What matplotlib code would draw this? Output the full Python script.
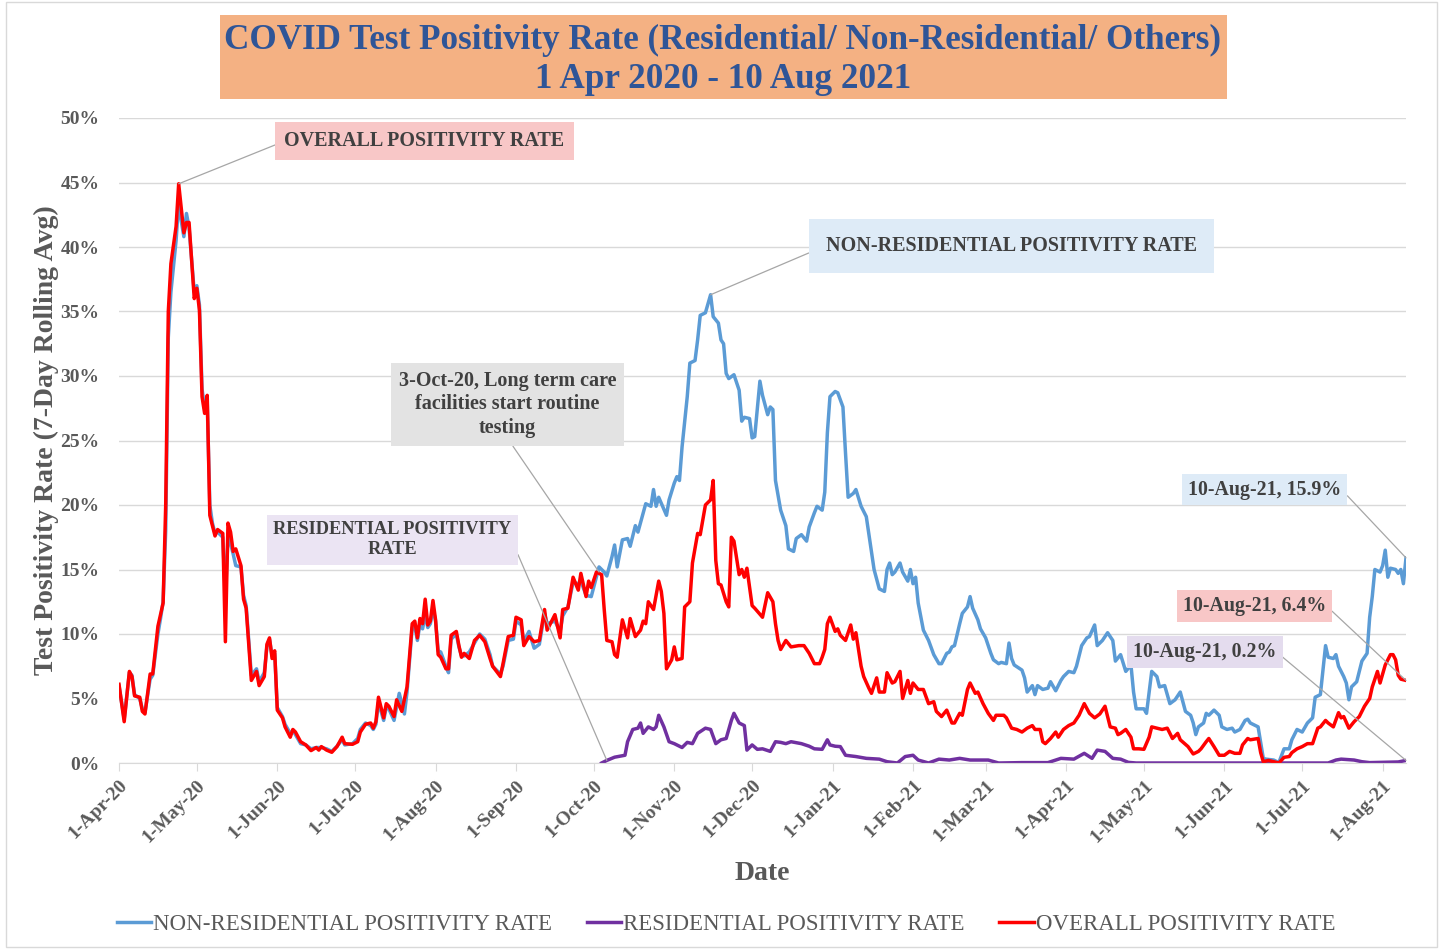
import numpy as np
import pandas as pd
import matplotlib
matplotlib.use('Agg')
import matplotlib.pyplot as plt
from matplotlib.patches import Rectangle

# values: days since 1-Apr-2020 and positivity (%)
start = pd.Timestamp('2020-04-01')

overall_days = [0, 2, 4, 5, 6, 8, 9, 10, 12, 13, 15, 16, 17, 18, 19, 20, 22, 23, 25, 26,
                27, 29, 30, 31, 32, 33, 34, 35, 36, 37, 38, 40, 41, 42, 43, 44, 45, 47, 48, 49,
                51, 53, 54, 56, 57, 58, 59, 60, 61, 63, 64, 66, 67, 68, 70, 72, 74, 76, 77, 78,
                80, 82, 84, 86, 87, 90, 92, 93, 95, 97, 98, 99, 100, 102, 103, 104, 106, 107, 109, 111,
                113, 114, 115, 116, 117, 118, 119, 120, 121, 122, 123, 124, 126, 127, 128, 130, 131, 132, 133, 135,
                137, 139, 141, 143, 144, 147, 148, 150, 152, 153, 155, 156, 158, 160, 162, 164, 165, 168, 170, 171,
                173, 175, 177, 178, 180, 181, 182, 184, 186, 187, 188, 190, 191, 192, 194, 196, 197, 199, 201, 202,
                203, 204, 206, 208, 209, 210, 211, 213, 214, 215, 217, 218, 220, 221, 223, 224, 226, 228, 229, 230,
                231, 232, 234, 235, 236, 237, 239, 240, 241, 242, 244, 245, 248, 250, 252, 253, 254, 255, 257, 259,
                262, 264, 266, 268, 270, 271, 272, 273, 274, 276, 277, 278, 280, 282, 283, 284, 286, 287, 289, 290,
                292, 293, 295, 296, 298, 299, 301, 302, 304, 305, 306, 308, 310, 312, 314, 315, 317, 319, 321, 322,
                324, 325, 327, 328, 330, 331, 333, 335, 337, 338, 341, 342, 344, 346, 348, 350, 352, 353, 355, 356,
                357, 359, 361, 362, 364, 366, 368, 370, 372, 374, 376, 378, 380, 381, 382, 384, 385, 386, 388, 390,
                391, 393, 395, 397, 398, 400, 402, 404, 406, 408, 409, 412, 414, 416, 417, 419, 420, 422, 424, 426,
                428, 430, 432, 433, 435, 436, 439, 440, 441, 443, 445, 447, 449, 451, 452, 454, 456, 458, 460, 462,
                463, 465, 466, 468, 470, 471, 472, 474, 476, 478, 480, 482, 483, 485, 486, 488, 490, 491, 492, 493,
                494, 496]
overall_vals = [6.1, 3.2, 7.1, 6.7, 5.2, 5.1, 4.0, 3.8, 6.9, 6.9, 10.6, 11.5, 12.4, 20.0, 35.0, 38.7, 41.6, 44.9, 41.1, 41.9,
                41.9, 36.0, 36.8, 35.1, 28.4, 27.1, 28.5, 19.2, 18.4, 17.6, 18.1, 17.8, 9.4, 18.6, 17.9, 16.4, 16.6, 15.3, 12.7, 12.0,
                6.4, 7.1, 6.0, 6.7, 9.2, 9.7, 8.1, 8.7, 4.1, 3.5, 2.8, 2.0, 2.6, 2.4, 1.65, 1.4, 0.96, 1.2, 1.0, 1.27,
                1.0, 0.83, 1.27, 2.0, 1.5, 1.45, 1.65, 2.4, 3.0, 3.1, 2.7, 3.2, 5.1, 3.5, 4.6, 4.4, 3.6, 4.9, 4.0, 5.9,
                10.8, 11.0, 9.7, 11.2, 10.8, 12.7, 10.7, 11.0, 12.6, 11.1, 8.4, 8.2, 7.3, 7.3, 9.9, 10.2, 9.1, 8.2, 8.5, 8.1,
                9.5, 9.9, 9.4, 8.1, 7.5, 6.7, 7.7, 9.8, 9.9, 11.3, 11.1, 9.1, 9.8, 9.4, 9.5, 11.9, 10.3, 11.5, 9.7, 11.9,
                12.0, 14.4, 13.4, 14.7, 12.9, 14.1, 13.6, 14.8, 14.6, 11.9, 9.5, 9.4, 8.4, 8.2, 11.1, 9.7, 11.2, 9.8, 10.3, 11.0,
                10.8, 12.5, 11.9, 14.1, 13.3, 11.6, 7.3, 8.0, 9.0, 8.0, 8.1, 12.1, 12.5, 15.5, 17.8, 17.7, 20.0, 20.4, 21.9, 15.7,
                13.9, 13.8, 12.5, 12.1, 17.5, 17.2, 14.6, 15.0, 14.4, 15.1, 12.2, 12.0, 11.3, 13.2, 12.5, 10.8, 9.5, 8.8, 9.5, 9.0,
                9.1, 9.1, 8.5, 7.7, 7.7, 8.2, 8.8, 10.8, 11.3, 10.2, 10.4, 9.9, 9.5, 10.7, 9.6, 10.1, 7.5, 6.7, 5.8, 5.4,
                6.6, 5.5, 5.5, 7.0, 6.2, 6.3, 7.1, 5.0, 6.4, 5.4, 6.2, 5.7, 5.7, 4.6, 4.75, 4.0, 3.6, 4.1, 3.1, 3.1,
                3.85, 3.7, 5.7, 6.2, 5.4, 5.5, 4.6, 3.85, 3.3, 3.7, 3.7, 3.5, 2.7, 2.6, 2.4, 2.7, 2.9, 2.6, 2.6, 1.65,
                1.5, 1.9, 2.4, 2.0, 2.6, 2.9, 3.1, 3.7, 4.6, 3.85, 3.5, 3.8, 4.4, 3.6, 2.8, 2.7, 2.2, 2.3, 2.6, 2.0,
                1.1, 1.1, 1.06, 2.0, 2.8, 2.7, 2.6, 2.7, 1.9, 2.3, 1.8, 1.27, 0.7, 0.9, 1.1, 1.65, 1.9, 1.27, 0.6, 0.6,
                0.9, 0.75, 0.75, 1.4, 1.9, 1.8, 1.9, 0.8, 0.1, 0.2, 0.1, 0.0, 0.44, 0.5, 0.8, 1.1, 1.27, 1.5, 1.5, 2.7,
                2.8, 3.3, 3.1, 2.8, 3.9, 3.5, 3.6, 2.7, 3.2, 3.6, 4.4, 5.0, 5.9, 7.1, 6.2, 7.6, 8.4, 8.4, 8.0, 6.8,
                6.5, 6.4]

nonres_days = [0, 2, 4, 5, 6, 8, 9, 10, 12, 13, 15, 16, 17, 18, 19, 20, 22, 23, 24, 25,
               26, 27, 29, 30, 31, 32, 33, 34, 35, 36, 37, 38, 40, 41, 42, 43, 44, 45, 47, 48,
               49, 51, 53, 54, 56, 57, 58, 59, 60, 61, 63, 64, 66, 67, 68, 70, 72, 74, 76, 78,
               80, 82, 84, 86, 87, 90, 92, 93, 95, 97, 98, 99, 100, 102, 103, 104, 106, 108, 110, 111,
               113, 114, 115, 116, 117, 118, 119, 120, 121, 122, 123, 124, 126, 127, 128, 130, 131, 132, 133, 135,
               137, 139, 141, 143, 144, 147, 148, 150, 152, 153, 155, 156, 158, 160, 162, 164, 165, 168, 170, 171,
               173, 175, 177, 178, 180, 182, 185, 187, 188, 190, 191, 192, 194, 196, 197, 199, 200, 203, 205, 206,
               207, 208, 211, 212, 214, 215, 216, 217, 219, 220, 222, 223, 224, 226, 228, 229, 231, 232, 233, 234,
               235, 237, 239, 240, 241, 243, 244, 245, 247, 248, 250, 251, 252, 253, 255, 257, 258, 260, 261, 263,
               265, 266, 268, 269, 271, 272, 273, 274, 276, 277, 279, 280, 281, 283, 284, 286, 288, 290, 291, 293,
               295, 296, 297, 298, 299, 301, 302, 304, 305, 306, 307, 308, 310, 312, 314, 316, 317, 319, 320, 321,
               322, 324, 325, 327, 328, 329, 331, 332, 334, 336, 337, 339, 340, 342, 343, 344, 345, 348, 349, 350,
               352, 353, 354, 356, 358, 359, 361, 363, 364, 366, 368, 369, 371, 373, 374, 376, 377, 379, 381, 383,
               384, 386, 388, 390, 391, 392, 395, 396, 398, 400, 401, 403, 405, 407, 409, 411, 413, 414, 415, 416,
               418, 419, 420, 422, 424, 425, 427, 429, 430, 432, 434, 435, 436, 438, 439, 441, 442, 445, 447, 449,
               451, 452, 454, 456, 458, 460, 461, 463, 464, 465, 466, 468, 469, 470, 472, 473, 474, 475, 477, 479,
               481, 482, 483, 484, 486, 487, 488, 489, 490, 492, 493, 494, 495, 496]
nonres_vals = [6.0, 3.4, 7.0, 6.8, 5.3, 5.0, 4.2, 3.9, 6.5, 6.8, 10.0, 11.2, 12.5, 18.0, 33.0, 36.5, 40.5, 43.5, 42.0, 40.8,
               42.6, 41.5, 36.5, 37.0, 35.5, 29.0, 27.5, 28.0, 20.0, 18.6, 17.8, 17.9, 17.5, 12.9, 17.5, 17.0, 16.2, 15.3, 15.2, 13.0,
               12.2, 6.8, 7.3, 6.3, 7.0, 9.0, 9.6, 8.3, 8.5, 4.3, 3.6, 3.0, 2.3, 2.5, 2.2, 1.5, 1.4, 1.1, 1.2, 1.2,
               1.1, 0.9, 1.3, 1.8, 1.4, 1.5, 1.9, 2.6, 3.1, 2.9, 2.6, 3.0, 4.7, 3.3, 4.3, 4.2, 3.3, 5.4, 3.8, 5.5,
               10.5, 10.6, 9.5, 10.8, 10.4, 11.5, 10.5, 10.8, 12.0, 11.0, 8.7, 8.6, 7.5, 7.0, 9.6, 10.0, 9.0, 8.3, 8.3, 8.6,
               9.3, 10.0, 9.6, 8.4, 7.5, 6.9, 7.5, 9.5, 9.6, 11.0, 10.7, 9.4, 10.2, 8.9, 9.2, 11.6, 10.8, 11.0, 10.2, 11.4,
               12.1, 14.0, 13.9, 14.1, 13.0, 12.9, 15.2, 14.8, 14.5, 16.0, 16.9, 15.2, 17.3, 17.4, 16.8, 18.4, 17.9, 20.1, 19.9, 21.2,
               19.9, 20.6, 19.2, 20.4, 21.7, 22.2, 21.9, 24.5, 28.4, 31.0, 31.2, 32.8, 34.7, 34.9, 36.3, 34.6, 34.1, 32.8, 32.5, 30.2,
               29.8, 30.1, 28.9, 26.5, 26.8, 26.7, 25.2, 25.3, 29.6, 28.5, 27.0, 27.6, 27.4, 21.9, 19.6, 18.4, 16.6, 16.4, 17.4, 17.7,
               17.2, 18.3, 19.4, 19.9, 19.6, 21.0, 25.6, 28.4, 28.8, 28.7, 27.6, 24.0, 20.6, 20.9, 21.2, 19.9, 19.1, 16.4, 15.0, 13.5,
               13.3, 15.0, 15.5, 14.6, 14.8, 15.5, 14.8, 14.1, 15.0, 13.9, 14.4, 12.4, 10.3, 9.5, 8.4, 7.7, 7.7, 8.5, 8.6, 9.0,
               9.1, 10.8, 11.6, 12.1, 12.9, 12.0, 11.1, 10.4, 9.7, 8.5, 8.0, 7.7, 7.8, 7.7, 9.3, 8.1, 7.6, 7.2, 6.6, 5.5,
               6.0, 5.3, 6.0, 5.7, 5.8, 6.3, 5.6, 6.4, 6.7, 7.1, 7.0, 7.5, 9.1, 9.7, 9.8, 10.7, 9.1, 9.5, 10.1, 9.5,
               7.9, 8.4, 7.1, 7.6, 5.5, 4.2, 4.2, 3.85, 7.1, 6.7, 5.9, 6.0, 4.6, 4.9, 5.5, 4.0, 3.7, 3.1, 2.2, 2.8,
               3.1, 3.85, 3.7, 4.1, 3.7, 2.8, 2.6, 2.7, 2.4, 2.6, 3.3, 3.4, 3.1, 2.9, 2.8, 0.36, 0.3, 0.23, 0.03, 1.1,
               1.1, 1.8, 2.6, 2.4, 3.1, 3.5, 5.1, 5.3, 7.2, 9.1, 8.2, 8.1, 8.4, 7.5, 6.7, 6.2, 4.9, 5.9, 6.3, 7.9,
               8.5, 11.3, 12.9, 15.0, 14.8, 15.3, 16.5, 14.4, 15.1, 15.0, 14.7, 15.0, 13.9, 15.9]

res_days = [186, 188, 191, 195, 196, 198, 200, 201, 202, 204, 206, 207, 208, 210, 212, 214, 217, 219, 221, 223,
            226, 228, 230, 232, 234, 236, 237, 239, 241, 242, 244, 246, 248, 251, 253, 255, 257, 259, 263, 266,
            268, 271, 273, 274, 276, 278, 280, 284, 288, 293, 296, 300, 303, 306, 308, 312, 316, 320, 324, 328,
            335, 339, 348, 358, 363, 368, 372, 375, 377, 380, 383, 386, 389, 392, 466, 469, 471, 476, 479, 482,
            493, 496]
res_vals = [0.0, 0.2, 0.45, 0.6, 1.65, 2.6, 2.7, 3.1, 2.3, 2.8, 2.6, 2.8, 3.7, 2.8, 1.65, 1.5, 1.2, 1.6, 1.5, 2.3,
            2.7, 2.6, 1.5, 1.8, 1.9, 3.3, 3.85, 3.1, 2.9, 1.0, 1.4, 1.06, 1.1, 0.9, 1.65, 1.6, 1.5, 1.65, 1.5, 1.3,
            1.1, 1.06, 1.8, 1.4, 1.3, 1.27, 0.6, 0.5, 0.36, 0.3, 0.1, 0.0, 0.5, 0.6, 0.23, 0.0, 0.3, 0.23, 0.36, 0.23,
            0.23, 0.0, 0.03, 0.03, 0.36, 0.3, 0.75, 0.36, 1.0, 0.9, 0.36, 0.3, 0.05, 0.0, 0.0, 0.23, 0.3, 0.23, 0.1, 0.03,
            0.08, 0.2]

tick_dates = pd.date_range('2020-04-01', '2021-08-01', freq='MS')
tick_labels = [d.strftime('1-%b-%y') for d in tick_dates]


def to_dates(days):
    return start + pd.to_timedelta(days, unit='D')


gray = '#595959'
plt.rcParams['font.family'] = 'Liberation Serif'

fig = plt.figure(figsize=(14.45, 9.49), dpi=100)
ax = fig.add_axes([119 / 1445, 1 - 763 / 949, (1406 - 119) / 1445, (763 - 118) / 949])

ax.plot(to_dates(nonres_days), np.array(nonres_vals) / 100, color='#5B9BD5', lw=2.5,
        label='NON-RESIDENTIAL POSITIVITY RATE')
ax.plot(to_dates(res_days), np.array(res_vals) / 100, color='#7030A0', lw=2.5,
        label='RESIDENTIAL POSITIVITY RATE')
ax.plot(to_dates(overall_days), np.array(overall_vals) / 100, color='#FF0000', lw=2.5,
        label='OVERALL POSITIVITY RATE')

ax.set_xlim(start, start + pd.Timedelta(days=496))
ax.set_ylim(0, 0.5)
ax.set_yticks(np.arange(0, 0.51, 0.05))
ax.set_yticklabels(['%d%%' % v for v in range(0, 51, 5)])
ax.set_xticks(tick_dates)
ax.set_xticklabels(tick_labels, rotation=45, ha='right', va='top', rotation_mode='anchor')
ax.grid(axis='y', color='#D9D9D9', lw=1)
ax.set_axisbelow(True)
for s in ['top', 'right', 'left']:
    ax.spines[s].set_visible(False)
ax.spines['bottom'].set_color('#D9D9D9')
ax.tick_params(axis='y', length=0, pad=14, labelsize=14, labelcolor=gray)
ax.tick_params(axis='x', length=6, color='#D9D9D9', pad=4, labelsize=14, labelcolor=gray)
for t in ax.get_xticklabels() + ax.get_yticklabels():
    t.set_fontweight('bold')

ax.set_xlabel('Date', fontsize=20, fontweight='bold', color=gray, labelpad=11)
ax.set_ylabel('Test Positivity Rate (7-Day Rolling Avg)', fontsize=20, fontweight='bold', color=gray, labelpad=1)

# title block
fig.patches.append(Rectangle((220 / 1445, 1 - 99 / 949), 1007 / 1445, 84 / 949,
                             transform=fig.transFigure, fc='#F4B183', ec='none'))
fig.text(723 / 1445, 1 - 40 / 949, 'COVID Test Positivity Rate (Residential/ Non-Residential/ Others)',
         ha='center', va='center', fontsize=25.3, fontweight='bold', color='#2F5597')
fig.text(723 / 1445, 1 - 79 / 949, '1 Apr 2020 - 10 Aug 2021',
         ha='center', va='center', fontsize=25.3, fontweight='bold', color='#2F5597')
fig.patches.append(Rectangle((6 / 1445, 2 / 949), 1431 / 1445, 945 / 949,
                             transform=fig.transFigure, fc='none', ec='#D9D9D9', lw=1))


def callout(text, box_xy, point, fc, relpos, size=14.5, pad=0.4):
    ax.annotate(text, xy=(start + pd.Timedelta(days=point[0]), point[1] / 100),
                xytext=(start + pd.Timedelta(days=box_xy[0]), box_xy[1] / 100),
                ha='center', va='center', fontsize=size, fontweight='bold', color='#404040',
                linespacing=1.25,
                bbox=dict(boxstyle='square,pad=%.2f' % pad, fc=fc, ec='none'),
                arrowprops=dict(arrowstyle='-', color='#A6A6A6', lw=0.9, relpos=relpos,
                                shrinkA=0, shrinkB=0))


callout('OVERALL POSITIVITY RATE', (117.7, 48.2), (23, 44.9), '#F8C7C7', (0, 0.5), pad=0.45)
callout('NON-RESIDENTIAL POSITIVITY RATE', (343.9, 40.1), (228, 36.3), '#DEEBF7', (0, 0.5), pad=0.85)
callout('3-Oct-20, Long term care\nfacilities start routine\ntesting', (149.7, 27.8), (185, 14.8),
        '#E3E3E3', (0.5, 0), pad=0.4)
callout('RESIDENTIAL POSITIVITY\nRATE', (105.4, 17.3), (188, 0.2), '#EBE4F3', (1, 0.5), size=13.2, pad=0.35)
callout('10-Aug-21, 15.9%', (441.6, 21.2), (496, 15.9), '#DEEBF7', (1, 0.5), size=14.3, pad=0.3)
callout('10-Aug-21, 6.4%', (437.6, 12.2), (496, 6.4), '#F8C7C7', (1, 0.5), size=14.3, pad=0.3)
callout('10-Aug-21, 0.2%', (418.5, 8.6), (496, 0.2), '#E4DCEE', (1, 0.5), size=14.3, pad=0.3)

fig.legend(loc='center', bbox_to_anchor=(726 / 1445, 1 - 924 / 949), ncol=3, frameon=False,
           fontsize=16.5, handlelength=1.5, handletextpad=0.1, columnspacing=1.5, labelcolor=gray)

fig.savefig('out.png', dpi=100)
